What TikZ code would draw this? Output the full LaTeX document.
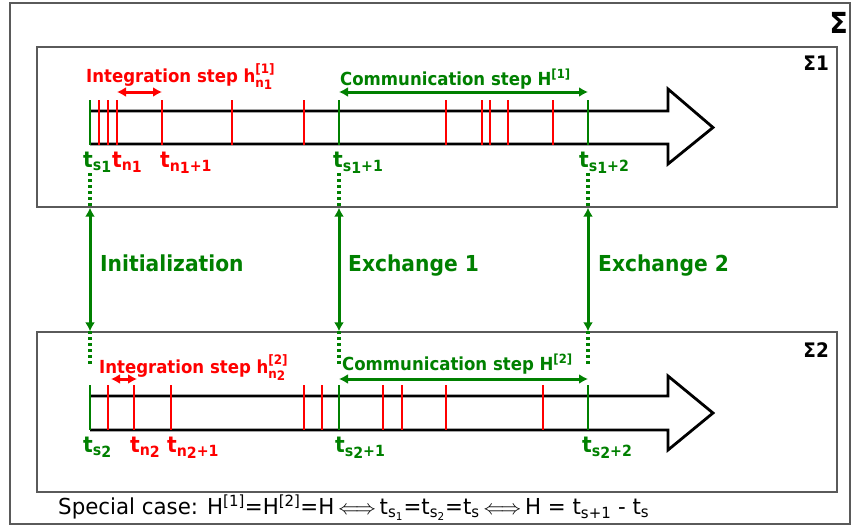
\documentclass[tikz,border=0pt]{standalone}
\usepackage{fontspec}
\setmainfont{DejaVu Sans}[FakeStretch=0.92]
\newfontfamily\notefont{DejaVu Sans}[FakeStretch=0.97]
\usepackage{tikz}
\usetikzlibrary{arrows.meta,positioning,calc}
\definecolor{simgreen}{RGB}{0,128,0}
\definecolor{framegray}{RGB}{90,90,90}
\newcommand\supsub[2]{\makebox[0pt][l]{\raisebox{0.5em}{\fontsize{13}{14}\selectfont #1}}\raisebox{-0.3em}{\fontsize{13}{14}\selectfont #2}}
\newcommand\low[1]{\raisebox{-0.3ex}{#1}}
\tikzset{
  sysbox/.style={draw=framegray, line width=1.4pt, minimum width=800pt, minimum height=160pt, inner sep=0pt},
  timeline/.style={draw, line width=2.8pt, line join=miter},
  rtick/.style={red, line width=2.8pt},
  gtick/.style={simgreen, line width=2.8pt},
  steplbl/.style={anchor=base west, inner sep=0pt, font=\bfseries\fontsize{18}{20}\selectfont},
  tlbl/.style={anchor=base west, inner sep=0pt, font=\bfseries\fontsize{22}{24}\selectfont},
  xlbl/.style={anchor=base west, inner sep=0pt, text=simgreen, font=\bfseries\fontsize{22}{24}\selectfont},
  darrow/.style={{Latex[length=9pt,width=10pt]}-{Latex[length=9pt,width=10pt]}, line width=3pt},
  dotline/.style={simgreen, line width=3.2pt, dash pattern=on 3pt off 3pt}
}

\begin{document}
\begin{tikzpicture}[x=1pt, y=-1pt]
  \useasboundingbox (0,0) rectangle (852,525);
  % outer frame
  \node[draw=framegray, line width=1.4pt, minimum width=840pt, minimum height=521pt, inner sep=0pt] (sys) at (430,263.5) {};
  \node[anchor=base east, inner sep=0pt, font=\bfseries\fontsize{29}{30}\selectfont] (sigma) at (848,33) {Σ};

  % subsystems
  \node[sysbox] (sys1) at (437,127) {};
  \node[sysbox] (sys2) at (437,412) {};
  \node[anchor=base east, inner sep=0pt, font=\bfseries\fontsize{20}{22}\selectfont] (sigma1) at (829,70) {Σ1};
  \node[anchor=base east, inner sep=0pt, font=\bfseries\fontsize{20}{22}\selectfont] (sigma2) at (829,357) {Σ2};

  % time axes
  \draw[timeline] (90,111) -- (668,111) -- (668,89) -- (713,127.5) -- (668,164) -- (668,144) -- (90,144);
  \draw[timeline] (90,396) -- (668,396) -- (668,376) -- (713,413) -- (668,450) -- (668,430) -- (90,430);

  % integration steps
  \foreach \x in {99,108,117,162,232,304,446,482,490,508,553}
    \draw[rtick] (\x,100) -- (\x,145);
  \foreach \x in {108,134,171,304,322,383,402,446,543}
    \draw[rtick] (\x,385) -- (\x,430);
  \coordinate (n1) at (117,100);
  \coordinate (n1p) at (162,100);
  \coordinate (n2) at (108,385);
  \coordinate (n2p) at (134,385);

  % communication points
  \foreach \x/\n in {90/a,339/b,588/c} {
    \draw[gtick] (\x,100) -- (\x,145);
    \draw[gtick] (\x,385) -- (\x,430);
    \coordinate (s1\n) at (\x,100);
    \coordinate (s2\n) at (\x,385);
    \coordinate (d1\n) at (\x,173);
    \coordinate (d2\n) at (\x,367);
  }

  % step labels
  \node[steplbl, text=red] (int1) at (86,82) {Integration step h\supsub{[1]}{n\low{1}}};
  \node[steplbl, text=simgreen] (com1) at (340,85) {Communication step H\textsuperscript{[1]}};
  \node[steplbl, text=red] (int2) at (99,373) {Integration step h\supsub{[2]}{n\low{2}}};
  \node[steplbl, text=simgreen] (com2) at (342,370) {Communication step H\textsuperscript{[2]}};
  \draw[darrow, red] ([yshift=8pt]n1) -- ([yshift=8pt]n1p);
  \draw[darrow, simgreen] ([yshift=8pt]s1b) -- ([yshift=8pt]s1c);
  \draw[darrow, red] ([xshift=3pt,yshift=6pt]n2) -- ([xshift=3pt,yshift=6pt]n2p);
  \draw[darrow, simgreen] ([yshift=6pt]s2b) -- ([yshift=6pt]s2c);

  % time labels
  \node[tlbl, text=simgreen] (ts1) at (83,167) {t\textsubscript{s\low{1}}};
  \node[tlbl, text=red] (tn1) at (112,167) {t\textsubscript{n\low{1}}};
  \node[tlbl, text=red] (tn1p) at (160,167) {t\textsubscript{n\low{1}+1}};
  \node[tlbl, text=simgreen] (ts1p) at (333,167) {t\textsubscript{s\low{1}+1}};
  \node[tlbl, text=simgreen] (ts1pp) at (579,167) {t\textsubscript{s\low{1}+2}};
  \node[tlbl, text=simgreen] (ts2) at (83,452) {t\textsubscript{s\low{2}}};
  \node[tlbl, text=red] (tn2) at (130,452) {t\textsubscript{n\low{2}}};
  \node[tlbl, text=red] (tn2p) at (167,452) {t\textsubscript{n\low{2}+1}};
  \node[tlbl, text=simgreen] (ts2p) at (335,452) {t\textsubscript{s\low{2}+1}};
  \node[tlbl, text=simgreen] (ts2pp) at (582,452) {t\textsubscript{s\low{2}+2}};

  % exchanges between the subsystems
  \foreach \n in {a,b,c} {
    \draw[dotline] (d1\n) -- (d1\n |- sys1.south);
    \draw[dotline] (d2\n |- sys2.north) -- (d2\n);
    \draw[darrow, simgreen] (d1\n |- sys1.south) -- (d2\n |- sys2.north);
  }
  \node[xlbl] (init) at (100,271) {Initialization};
  \node[xlbl] (ex1) at (348,271) {Exchange 1};
  \node[xlbl] (ex2) at (598,271) {Exchange 2};

  % note
  \node[anchor=base west, inner sep=0pt, font=\notefont\fontsize{22}{24}\selectfont] (note) at (58,514)
    {Special case: H\textsuperscript{[1]}=H\textsuperscript{[2]}=H\,$\Longleftrightarrow$\,t\textsubscript{s\textsubscript{1}}=t\textsubscript{s\textsubscript{2}}=t\textsubscript{s}\,$\Longleftrightarrow$\,H = t\textsubscript{s+1} - t\textsubscript{s}};
\end{tikzpicture}
\end{document}
